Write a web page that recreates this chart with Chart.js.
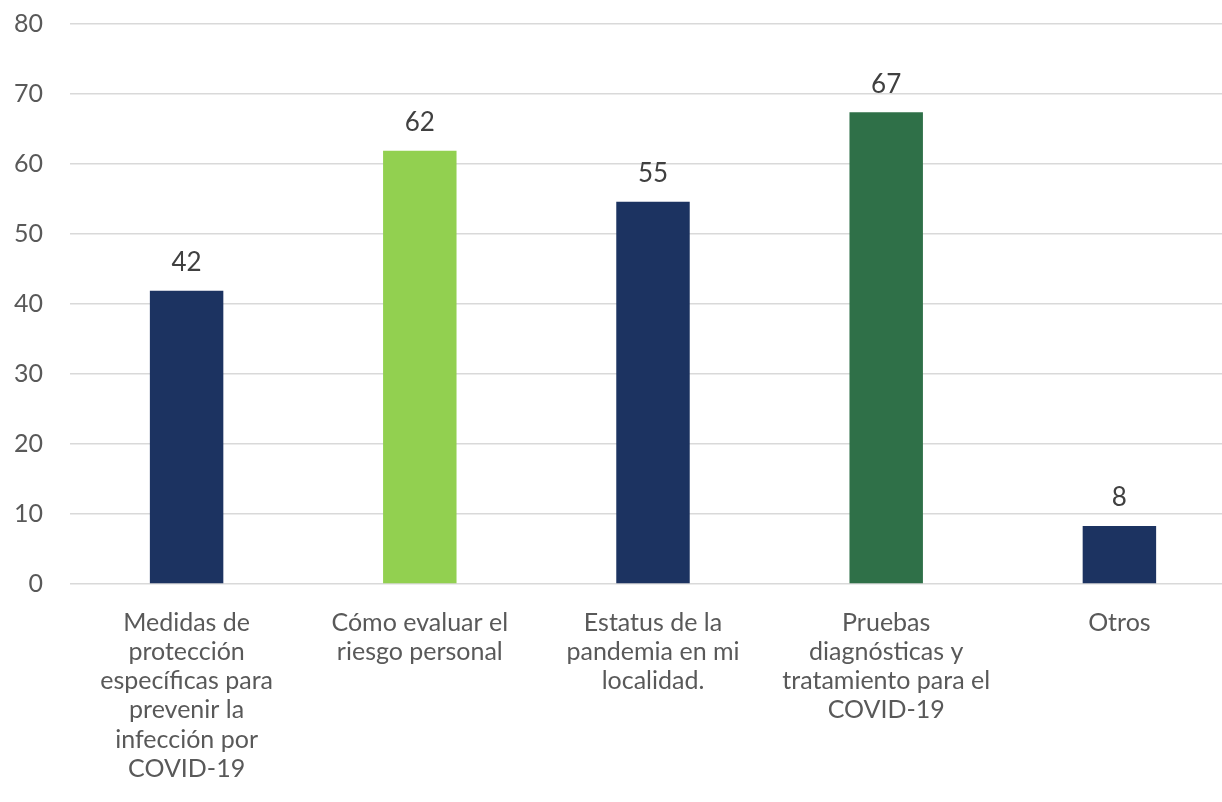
<!DOCTYPE html>
<html lang="es">
<head>
<meta charset="UTF-8">
<title>Temas de interés</title>
<script src="https://cdn.jsdelivr.net/npm/chart.js@4"></script>
<style>
  html, body { margin: 0; padding: 0; background: #fff; overflow: hidden; }
  #wrap { width: 1236px; height: 802px; }
</style>
</head>
<body>
<div id="wrap"><canvas id="chart"></canvas></div>
<script>
// data
const categories = [
  ['Medidas de', 'protección', 'específicas para', 'prevenir la', 'infección por', 'COVID-19'],
  ['Cómo evaluar el', 'riesgo personal'],
  ['Estatus de la', 'pandemia en mi', 'localidad.'],
  ['Pruebas', 'diagnósticas y', 'tratamiento para el', 'COVID-19'],
  ['Otros']
];
const values = [41.9, 61.9, 54.6, 67.4, 8.3];
const barColors = ['#1c3361', '#92d050', '#1c3361', '#2f7048', '#1c3361'];
const yTicks = [0, 10, 20, 30, 40, 50, 60, 70, 80];

const fontFamily = 'Lato, "Open Sans", sans-serif';

// value labels above each bar
const valueLabels = {
  id: 'valueLabels',
  afterDatasetsDraw(chart) {
    const ctx = chart.ctx;
    const meta = chart.getDatasetMeta(0);
    ctx.save();
    ctx.font = '26px ' + fontFamily;
    ctx.fillStyle = '#404040';
    ctx.textAlign = 'center';
    ctx.textBaseline = 'bottom';
    meta.data.forEach((bar, i) => {
      ctx.fillText(Math.round(values[i]), bar.x, bar.y - 15);
    });
    ctx.restore();
  }
};

new Chart(document.getElementById('chart'), {
  type: 'bar',
  data: {
    labels: categories,
    datasets: [{
      data: values,
      backgroundColor: barColors,
      borderWidth: 0,
      categoryPercentage: 1,
      barPercentage: 0.315
    }]
  },
  options: {
    responsive: true,
    maintainAspectRatio: false,
    animation: false,
    layout: { padding: { top: 24, right: 0, left: 0, bottom: 0 } },
    plugins: {
      legend: { display: false },
      tooltip: { enabled: false }
    },
    scales: {
      x: {
        grid: { display: false, drawTicks: false },
        border: { display: false },
        ticks: {
          color: '#595959',
          font: { family: fontFamily, size: 25, lineHeight: 1.17 },
          padding: 24,
          maxRotation: 0,
          autoSkip: false
        },
        afterFit(scale) {
          scale.height = 218;
          scale.paddingLeft = 0;
          scale.paddingRight = 0;
        }
      },
      y: {
        min: 0,
        max: 80,
        afterBuildTicks(scale) { scale.ticks = yTicks.map(v => ({ value: v })); },
        grid: { color: '#d9d9d9', lineWidth: 1.5, drawTicks: false },
        border: { display: false },
        ticks: {
          color: '#595959',
          font: { family: fontFamily, size: 25 },
          padding: 27
        },
        afterFit(scale) {
          scale.width = 70;
          scale.paddingTop = 0;
          scale.paddingBottom = 0;
        }
      }
    }
  },
  plugins: [valueLabels]
});
</script>
</body>
</html>
